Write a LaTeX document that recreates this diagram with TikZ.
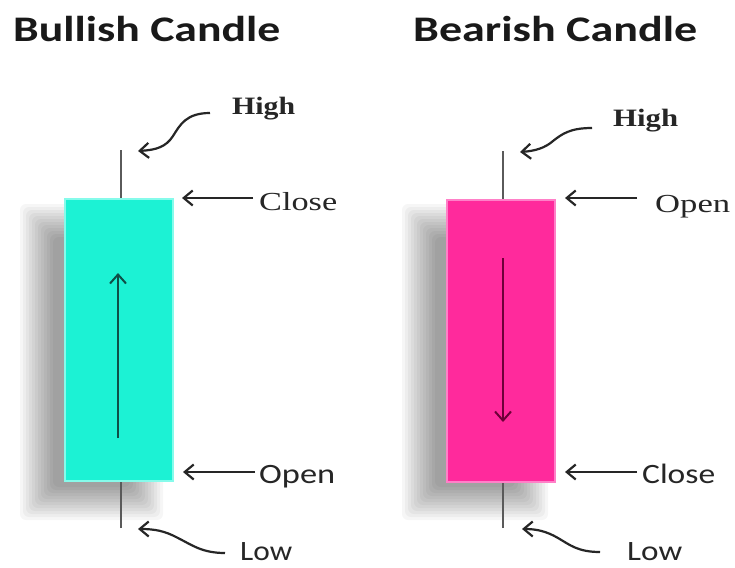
\documentclass[tikz,border=0pt]{standalone}
\usepackage{fontspec}
\setmainfont{Liberation Serif}
\newfontfamily\calf{Carlito}
\usetikzlibrary{arrows.meta}
\definecolor{bullc}{HTML}{1CF2D4}
\definecolor{bulledge}{HTML}{86FBEB}
\definecolor{bearc}{HTML}{FF2A9C}
\definecolor{bearedge}{HTML}{FF80C8}
\definecolor{wickc}{HTML}{5A5A5A}
\definecolor{bullarr}{HTML}{0E4F47}
\definecolor{beararr}{HTML}{6E0038}
\newcommand{\fitw}[2]{\resizebox{#1}{\height}{#2}}
\tikzset{
  lbl/.style={anchor=base west, inner sep=0pt, text=black!85},
  ttl/.style={anchor=base west, inner sep=0pt, text=black!90},
  wick/.style={draw=wickc, line width=2.4pt},
  pointer/.style={draw=black!85, line width=2.2pt, -{Straight Barb[length=9pt,width=15pt]}},
  bodyarrow/.style={line width=2pt, -{Straight Barb[length=9pt,width=16pt]}},
  candlebody/.style={line width=1.5pt, minimum width=108pt, minimum height=282pt, inner sep=0pt, anchor=north west},
  shadowlayer/.style={fill=black, opacity=0.035, rounded corners=6pt}
}
\begin{document}
\begin{tikzpicture}[x=1pt,y=-1pt]
\useasboundingbox (0,0) rectangle (735,567);
\fill[white] (0,0) rectangle (735,567);

% titles
\node[ttl] (tbull) at (13,42) {\fitw{267pt}{\calf\bfseries\fontsize{36}{40}\selectfont Bullish Candle}};
\node[ttl] (tbear) at (413,42) {\fitw{284pt}{\calf\bfseries\fontsize{36}{40}\selectfont Bearish Candle}};

% soft shadows
\foreach \i in {0,...,11}{
  \fill[shadowlayer] ({38-18+3*\i},{222-18+3*\i}) rectangle ({145+18-3*\i},{502+18-3*\i});
  \fill[shadowlayer] ({420-18+3*\i},{222-18+3*\i}) rectangle ({530+18-3*\i},{502+18-3*\i});
}

% ---------- bullish candle ----------
\coordinate (bullTop) at (121,150);
\coordinate (bullBot) at (121,528);
\node[candlebody, draw=bulledge, fill=bullc] (bullbody) at (64,198) {};
\draw[wick] (bullTop) -- (bullTop |- bullbody.north);
\draw[wick] (bullBot) -- (bullBot |- bullbody.south);
\node[candlebody, draw=bulledge, fill=bullc] at (64,198) {};
\coordinate (bullArrS) at (118,438);
\coordinate (bullArrE) at (118,273);
\draw[bodyarrow, draw=bullarr] (bullArrS) -- (bullArrE);

\node[lbl] (bHigh) at (232,115) {\fitw{63pt}{\bfseries\fontsize{25}{28}\selectfont High}};
\node[lbl] (bClose) at (259,210) {\fitw{78pt}{\fontsize{26}{28}\selectfont Close}};
\node[lbl] (bOpen) at (259,483) {\fitw{76pt}{\calf\fontsize{28}{30}\selectfont Open}};
\node[lbl] (bLow) at (240,560) {\fitw{52pt}{\calf\fontsize{28}{30}\selectfont Low}};

\coordinate (bHighTip) at (138,151);
\coordinate (bHighTail) at (210,113);
\coordinate (bCloseTip) at (182,198);
\coordinate (bOpenTip) at (183,472);
\coordinate (bLowTip) at (138,529);
\coordinate (bLowTail) at (225,553);

\draw[pointer] (bHighTail) .. controls (186,113) and (180,125) .. (173,136)
               .. controls (166,147) and (156,150) .. (bHighTip);
\draw[pointer, shorten <=6pt] (bCloseTip -| bClose.west) -- (bCloseTip);
\draw[pointer, shorten <=4pt] (bOpenTip -| bOpen.west) -- (bOpenTip);
\draw[pointer] (bLowTail) .. controls (202,553) and (192,545) .. (178,538)
               .. controls (165,531) and (155,529) .. (bLowTip);

% ---------- bearish candle ----------
\coordinate (bearTop) at (503,151);
\coordinate (bearBot) at (503,528);
\node[candlebody, draw=bearedge, fill=bearc] (bearbody) at (446,199) {};
\draw[wick] (bearTop) -- (bearTop |- bearbody.north);
\draw[wick] (bearBot) -- (bearBot |- bearbody.south);
\node[candlebody, draw=bearedge, fill=bearc] at (446,199) {};
\coordinate (bearArrS) at (503,258);
\coordinate (bearArrE) at (503,422);
\draw[bodyarrow, draw=beararr] (bearArrS) -- (bearArrE);

\node[lbl] (sHigh) at (613,127) {\fitw{65pt}{\bfseries\fontsize{25}{28}\selectfont High}};
\node[lbl] (sOpen) at (655,212) {\fitw{75pt}{\fontsize{26}{28}\selectfont Open}};
\node[lbl] (sClose) at (642,483) {\fitw{73pt}{\calf\fontsize{28}{30}\selectfont Close}};
\node[lbl] (sLow) at (627,560) {\fitw{55pt}{\calf\fontsize{28}{30}\selectfont Low}};

\coordinate (sHighTip) at (520,152);
\coordinate (sHighTail) at (592,128);
\coordinate (sOpenTip) at (565,198);
\coordinate (sCloseTip) at (565,472);
\coordinate (sLowTip) at (522,529);
\coordinate (sLowTail) at (600,552);

\draw[pointer] (sHighTail) .. controls (570,128) and (562,134) .. (553,141)
               .. controls (545,148) and (535,151) .. (sHighTip);
\draw[pointer, shorten <=18pt] (sOpenTip -| sOpen.west) -- (sOpenTip);
\draw[pointer, shorten <=5pt] (sCloseTip -| sClose.west) -- (sCloseTip);
\draw[pointer] (sLowTail) .. controls (578,552) and (570,545) .. (558,538)
               .. controls (546,531) and (536,529) .. (sLowTip);
\end{tikzpicture}
\end{document}
